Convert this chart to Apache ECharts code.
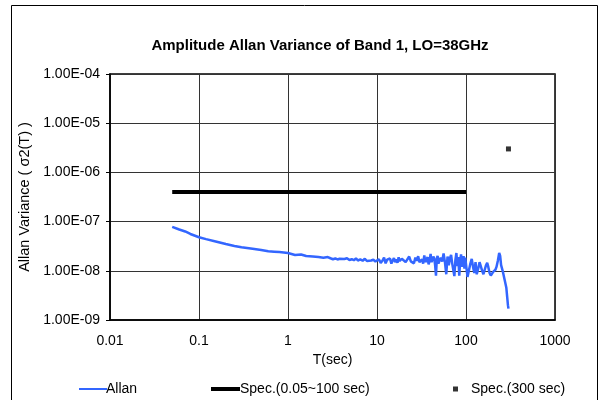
<!DOCTYPE html>
<html>
<head>
<meta charset="utf-8">
<script src="https://cdn.jsdelivr.net/npm/echarts@6/dist/echarts.min.js"></script>
<style>
  html, body { margin: 0; padding: 0; background: #fff; }
  #chart { width: 598px; height: 400px; }
</style>
</head>
<body>
<div id="chart"></div>
<script>
// averaging time T (sec)
const allanT = [
  0.05, 0.06, 0.07, 0.08, 0.1, 0.12, 0.15, 0.2, 0.25, 0.3, 0.4, 0.5, 0.6, 0.7, 0.8, 1.0,
  1.2, 1.4, 1.6, 1.9, 2.2, 2.5, 2.8,
  3.0, 3.2, 3.4, 3.6, 3.8, 4.0, 4.3, 4.6, 4.9, 5.2, 5.5, 5.8, 6.1, 6.5, 6.9, 7.3, 7.7, 8.1, 8.6, 9.1, 9.6,
  10, 10.5, 11, 11.5, 12, 12.5, 13, 13.5, 14, 14.5, 15, 15.5, 16, 16.5, 17, 17.5, 18, 18.5, 19, 19.5,
  20, 21, 22, 23, 24, 25, 26, 27, 28, 29, 30,
  32, 33, 34, 35, 36, 37, 38, 39, 40, 41, 42, 43, 44, 45, 46, 47, 48, 49, 50,
  52, 54, 56, 58, 60, 62, 64, 66, 68, 70,
  72, 74, 76, 78, 80, 82, 84, 86, 88, 90, 92, 94, 96, 98, 100,
  104, 108, 112, 116, 120, 124, 128, 132, 137, 142, 147, 152, 157, 163, 168, 173, 178, 184, 190,
  196, 202, 208, 214, 220, 228, 236, 242, 248, 254, 260, 266, 272, 278, 284, 290, 296, 300
]
// Allan variance, in units of 1e-8
const allanV = [
  7.8, 6.9, 6.3, 5.6, 4.8, 4.4, 4.0, 3.5, 3.2, 3.0, 2.8, 2.65, 2.5, 2.45, 2.4, 2.3,
  2.1, 2.15, 2.0, 1.95, 1.9, 1.85, 1.9,
  1.8, 1.72, 1.78, 1.7, 1.76, 1.68, 1.74, 1.8, 1.66, 1.72, 1.64, 1.78, 1.62, 1.7, 1.6, 1.76, 1.58, 1.72, 1.62, 1.68, 1.55,
  1.5, 1.72, 1.45, 1.6, 1.85, 1.42, 1.68, 1.55, 1.78, 1.4, 1.62, 1.82, 1.5, 1.7, 1.45, 1.88, 1.58, 1.48, 1.76, 1.62,
  1.9, 1.5, 1.72, 1.95, 1.55, 1.66, 1.42, 1.85, 1.6, 1.98, 1.5,
  1.7, 1.4, 2.05, 1.5, 1.45, 1.9, 1.35, 1.6, 2.2, 1.5, 1.4, 1.95, 1.75, 1.3, 0.8, 1.8, 2.0, 1.4, 1.35,
  1.85, 1.55, 2.25, 1.5, 0.85, 1.95, 1.3, 1.8, 2.1, 1.4,
  1.45, 0.78, 1.65, 2.3, 1.25, 1.9, 0.8, 1.6, 2.15, 1.2, 1.75, 2.0, 1.1, 1.85, 1.9,
  0.75, 0.7, 1.4, 1.75, 1.2, 0.9, 1.5, 0.85, 1.1, 1.5, 1.45, 1.0, 0.85, 0.9, 1.3, 1.45, 1.2, 0.9, 0.8,
  0.85, 0.95, 1.0, 1.05, 1.2, 1.6, 2.3, 2.0, 1.3, 1.2, 0.95, 0.9, 0.65, 0.6, 0.45, 0.3, 0.2, 0.17
]
const specT = [0.05, 100]
const specV = [4e-7, 4e-7]
const spec300T = [300]
const spec300V = [3e-6]

const xTicks = ['0.01', '0.1', '1', '10', '100', '1000']
const yTicks = ['1.00E-09', '1.00E-08', '1.00E-07', '1.00E-06', '1.00E-05', '1.00E-04']

const font = 'Liberation Sans, Arial, sans-serif'

const chart = echarts.init(document.getElementById('chart'))

const fmtX = v => xTicks[Math.round(Math.log10(v)) + 2] || ''
const fmtY = v => yTicks[Math.round(Math.log10(v)) + 9] || ''

chart.setOption({
  animation: false,
  backgroundColor: '#fff',
  textStyle: { fontFamily: font },
  title: {
    text: 'Amplitude Allan Variance of Band 1, LO=38GHz',
    left: 315,
    top: 33,
    textAlign: 'center',
    textStyle: { fontFamily: font, fontSize: 15, fontWeight: 'bold', color: '#000' }
  },
  graphic: [{
    type: 'rect',
    shape: { x: 11.5, y: 5.5, width: 586, height: 420 },
    style: { fill: 'none', stroke: '#000', lineWidth: 1 },
    silent: true
  }],
  legend: [
    {
      data: ['Allan'], left: 74, top: 377, itemWidth: 28, itemHeight: 2, icon: 'rect',
      textStyle: { fontFamily: font, fontSize: 14, color: '#000', padding: [0, 0, 0, -6] }
    },
    {
      data: ['Spec.(0.05~100 sec)'], left: 206, top: 377, itemWidth: 29, itemHeight: 4, icon: 'rect',
      textStyle: { fontFamily: font, fontSize: 14, color: '#000', padding: [0, 0, 0, -5] }
    },
    {
      data: ['Spec.(300 sec)'], left: 448, top: 377, itemWidth: 5, itemHeight: 5, icon: 'rect',
      textStyle: { fontFamily: font, fontSize: 14, color: '#000', padding: [0, 0, 0, 8] }
    }
  ],
  grid: {
    left: 110, right: 43, top: 74, bottom: 80,
    show: true, borderColor: '#000', borderWidth: 1.5, backgroundColor: '#fff'
  },
  xAxis: {
    type: 'log', logBase: 10, min: 0.01, max: 1000,
    name: 'T(sec)', nameLocation: 'middle', nameGap: 32,
    nameTextStyle: { fontFamily: font, fontSize: 14, color: '#000' },
    axisLine: { lineStyle: { color: '#000', width: 1.5 } },
    axisTick: { show: false },
    axisLabel: { formatter: fmtX, fontFamily: font, fontSize: 14, color: '#000', margin: 14 },
    splitLine: { show: true, lineStyle: { color: '#333', width: 1 } },
    minorTick: { show: false }
  },
  yAxis: {
    type: 'log', logBase: 10, min: 1e-9, max: 1e-4,
    name: 'Allan Variance ( σ2(T) )', nameLocation: 'middle', nameRotate: 90, nameGap: 78,
    nameTextStyle: { fontFamily: font, fontSize: 14.5, color: '#000' },
    axisLine: { show: true, lineStyle: { color: '#000', width: 1.5 } },
    axisTick: { show: true, length: 4, inside: false, lineStyle: { color: '#000' } },
    axisLabel: { formatter: fmtY, fontFamily: font, fontSize: 14, color: '#000', margin: 10 },
    splitLine: { show: true, lineStyle: { color: '#333', width: 1 } }
  },
  series: [
    {
      name: 'Allan', type: 'line',
      data: allanT.map((t, i) => [t, allanV[i] * 1e-8]),
      showSymbol: false, symbol: 'none',
      lineStyle: { color: '#3366FF', width: 2.5 },
      itemStyle: { color: '#3366FF' },
      z: 3
    },
    {
      name: 'Spec.(0.05~100 sec)', type: 'line',
      data: specT.map((t, i) => [t, specV[i]]),
      showSymbol: false, symbol: 'none',
      lineStyle: { color: '#000', width: 4 },
      itemStyle: { color: '#000' },
      z: 2
    },
    {
      name: 'Spec.(300 sec)', type: 'scatter',
      data: spec300T.map((t, i) => [t, spec300V[i]]),
      symbol: 'rect', symbolSize: 5,
      itemStyle: { color: '#000' },
      z: 2
    }
  ]
})
</script>
</body>
</html>
